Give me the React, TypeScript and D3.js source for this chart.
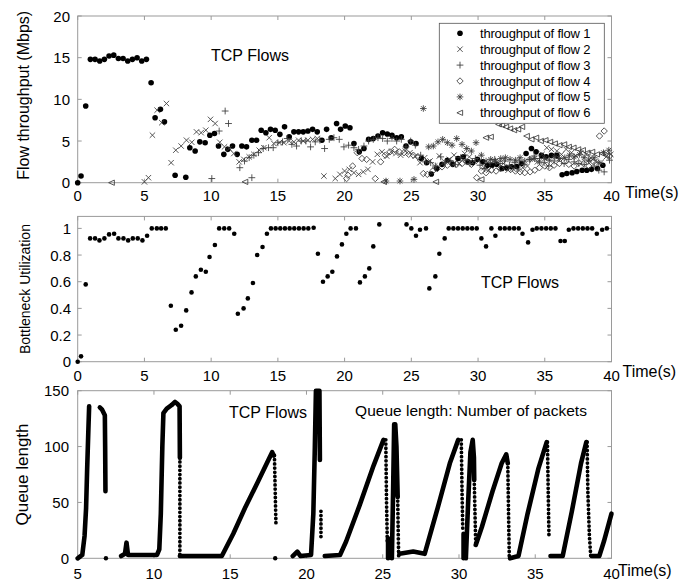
import React from "react";
import * as d3 from "d3";

// ---------- DATA ----------
const X_TICKS_TOP = [0, 5, 10, 15, 20, 25, 30, 35, 40];
const Y_TICKS_TOP = [0, 5, 10, 15, 20];
const Y_TICKS_MID = [0, 0.2, 0.4, 0.6, 0.8, 1];
const Y_TICK_LABELS_MID = ["0", "0.2", "0.4", "0.6", "0.8", "1"];
const X_TICKS_BOT = [5, 10, 15, 20, 25, 30, 35, 40];
const Y_TICKS_BOT = [0, 50, 100, 150];

const LEGEND_LABELS = [
  "throughput of flow 1",
  "throughput of flow 2",
  "throughput of flow 3",
  "throughput of flow 4",
  "throughput of flow 5",
  "throughput of flow 6",
];
const MARKERS = ["dot", "x", "plus", "diamond", "star", "tri"];

const FLOW1: [number, number][] = [
  [0, 0], [0.25, 0.8], [0.6, 9.2], [0.95, 14.8], [1.3, 14.8], [1.65, 14.6], [2.0, 14.8], [2.35, 15.2],
  [2.7, 15.3], [3.05, 14.9], [3.4, 14.9], [3.75, 14.6], [4.1, 14.8], [4.45, 15.0], [4.8, 14.6], [5.15, 14.8],
  [5.5, 12.0], [5.8, 7.8], [6.2, 8.8], [6.5, 7.3], [7.3, 0.9], [8.1, 0.65], [8.4, 4.2], [8.8, 3.8],
  [9.15, 4.9], [9.55, 4.8], [9.9, 5.7], [10.25, 5.9], [10.55, 4.4], [10.95, 3.4], [11.25, 4.0], [11.6, 4.4],
  [11.95, 3.4], [12.3, 4.4], [12.65, 4.3], [13.05, 5.1], [13.4, 5.1], [13.75, 6.3], [14.1, 6.0], [14.45, 6.4],
  [14.8, 6.3], [15.15, 5.8], [15.5, 6.7], [15.85, 5.5], [16.2, 6.1], [16.55, 6.1], [16.9, 6.1], [17.25, 6.2],
  [17.6, 6.4], [17.95, 6.1], [18.3, 5.1], [18.65, 6.4], [19.0, 5.4], [19.4, 7.1], [19.7, 6.4], [20.05, 6.8],
  [20.4, 6.6], [20.7, 4.7], [21.1, 3.7], [21.45, 4.1], [21.8, 5.2], [22.15, 5.3], [22.5, 5.6], [22.85, 6.0],
  [23.2, 5.85], [23.55, 5.7], [23.9, 5.4], [24.25, 5.5], [24.6, 4.4], [24.95, 4.9], [25.35, 4.7], [25.75, 2.9],
  [26.15, 2.4], [26.5, 1.05], [26.9, 1.7], [27.3, 2.2], [27.7, 2.7], [28.1, 2.2], [28.5, 2.9], [28.9, 3.1],
  [29.25, 2.5], [29.6, 2.4], [29.95, 2.8], [30.35, 2.5], [30.7, 2.1], [31.05, 2.1], [31.4, 2.2], [31.8, 1.7],
  [32.15, 1.8], [32.5, 1.9], [32.9, 1.95], [33.25, 2.3], [33.6, 3.5], [34.0, 4.1], [34.35, 3.7], [34.75, 3.3],
  [35.1, 3.1], [35.5, 3.3], [35.9, 3.3], [36.3, 0.95], [36.65, 1.1], [37.05, 1.2], [37.4, 1.35], [37.8, 1.5],
  [38.15, 1.5], [38.5, 1.6], [38.95, 1.7], [39.35, 2.1],
];

const FLOW2: [number, number][] = [
  [5.0, 0.1], [5.3, 0.6], [5.6, 5.7], [5.95, 8.7], [6.3, 7.2], [6.65, 9.5], [7.0, 2.4], [7.35, 3.9],
  [7.75, 4.4], [8.15, 5.1], [8.55, 4.85], [8.9, 6.1], [9.25, 6.0], [9.6, 6.3], [9.95, 7.6], [10.3, 7.1],
  [10.65, 4.85], [11.0, 4.3], [11.35, 4.1], [11.7, 3.5], [12.1, 2.5], [12.45, 2.8], [12.85, 3.1], [13.2, 3.4],
  [13.6, 3.9], [13.95, 4.2], [14.35, 5.4], [14.7, 4.7], [15.1, 4.8], [15.45, 4.8], [15.85, 5.0], [16.2, 4.9],
  [16.55, 5.1], [16.9, 5.0], [17.25, 5.1], [17.6, 5.2], [17.95, 5.3], [18.45, 0.8], [19.3, 0.5], [19.65, 1.0],
  [20.0, 1.4], [20.35, 1.6], [20.7, 1.2], [21.05, 1.0], [21.4, 1.3], [21.75, 1.6], [22.1, 2.5], [22.45, 3.4],
  [22.8, 3.7], [23.15, 3.2], [23.5, 3.7], [23.85, 3.5], [24.2, 3.3], [24.55, 3.8], [24.9, 3.6], [25.3, 3.2],
  [25.65, 2.4], [26.0, 3.0], [26.4, 2.6], [26.75, 2.0], [27.1, 3.2], [27.5, 2.5], [27.85, 2.8], [28.2, 3.3],
  [28.6, 2.3], [29.0, 3.5], [29.35, 3.1], [29.7, 2.6], [30.05, 2.6], [30.45, 1.8], [30.8, 1.5], [31.15, 2.6],
  [31.5, 2.4], [31.9, 2.3], [32.25, 1.5], [32.6, 1.7], [33.0, 1.6], [33.35, 1.8], [33.7, 2.0], [34.1, 2.8],
  [34.45, 2.5], [34.8, 3.4], [35.15, 4.2], [35.5, 4.0], [35.9, 3.8], [36.25, 3.4], [36.6, 4.0], [37.0, 3.6],
  [37.35, 3.2], [37.7, 3.6], [38.1, 3.4], [38.45, 3.0], [38.8, 2.6], [39.2, 2.4], [39.6, 3.1], [39.95, 3.4],
];

const FLOW3: [number, number][] = [
  [10.05, 0.5], [10.6, 6.2], [11.05, 8.6], [11.3, 7.1], [12.15, 1.8], [12.5, 2.6], [12.85, 3.0], [13.05, 0.6],
  [13.2, 3.3], [13.55, 3.6], [13.9, 4.1], [14.3, 4.2], [14.65, 4.2], [15.0, 4.8], [15.35, 4.9], [15.7, 5.3],
  [16.05, 4.6], [16.4, 4.4], [16.75, 5.0], [17.1, 5.0], [17.45, 4.3], [17.8, 4.9], [18.15, 5.1], [18.5, 4.1],
  [18.85, 5.2], [19.2, 5.4], [19.6, 5.2], [19.95, 4.3], [20.3, 4.5], [20.7, 4.2], [21.05, 4.0], [21.45, 4.4],
  [21.8, 5.0], [22.15, 5.2], [22.5, 5.4], [22.85, 5.3], [23.2, 5.0], [23.55, 5.3], [23.9, 5.0], [24.25, 5.2],
  [24.6, 4.3], [24.95, 5.0], [25.3, 4.5], [25.7, 3.3], [26.05, 2.5], [26.45, 2.4], [26.8, 2.0], [27.2, 3.1],
  [27.55, 2.4], [27.95, 2.6], [28.3, 2.2], [28.7, 3.0], [29.05, 2.7], [29.4, 2.3], [29.8, 2.9], [30.15, 2.1],
  [30.5, 1.7], [30.9, 2.4], [31.25, 2.8], [31.65, 2.3], [32.0, 2.6], [32.35, 2.1], [32.75, 2.4], [33.1, 2.6],
  [33.45, 2.2], [33.85, 2.8], [34.2, 3.2], [34.6, 2.9], [34.95, 2.4], [35.3, 2.0], [35.7, 2.6], [36.05, 2.9],
  [36.45, 2.3], [36.8, 2.8], [37.2, 2.5], [37.55, 2.3], [37.95, 2.2], [38.3, 2.6], [38.7, 2.0], [39.05, 1.5],
  [39.45, 1.3], [39.85, 2.7],
];

const FLOW4: [number, number][] = [
  [20.15, 0.5], [20.25, 0.9], [20.6, 2.0], [20.95, 3.6], [21.3, 2.9], [21.65, 2.8], [22.3, 0.5], [22.7, 2.5],
  [23.05, 3.3], [23.4, 3.7], [23.75, 4.0], [24.1, 3.7], [24.45, 3.6], [24.8, 3.4], [25.15, 3.3], [25.5, 3.1],
  [25.9, 1.1], [26.2, 1.0], [26.6, 1.4], [26.95, 1.7], [27.3, 1.9], [27.7, 2.1], [28.05, 2.3], [28.4, 2.2],
  [28.8, 2.3], [29.15, 2.5], [29.5, 2.2], [29.9, 0.6], [30.25, 1.4], [30.6, 1.2], [31.0, 1.5], [31.35, 1.4],
  [31.7, 1.7], [32.1, 1.8], [32.45, 1.6], [32.8, 1.4], [33.15, 1.3], [33.5, 1.2], [33.9, 1.3], [34.25, 1.5],
  [34.6, 1.8], [35.0, 2.0], [35.35, 1.8], [35.7, 2.1], [36.1, 2.3], [36.45, 2.6], [36.8, 2.2], [37.2, 2.0],
  [37.55, 2.4], [37.9, 2.3], [38.3, 2.0], [38.65, 2.5], [39.1, 5.6], [39.45, 6.2], [39.85, 3.2],
];

const FLOW5: [number, number][] = [
  [23.1, 0.2], [24.15, 0.2], [25.2, 0.4], [25.9, 8.9], [26.3, 4.3], [26.65, 4.4], [27.0, 4.9], [27.35, 5.2],
  [27.7, 4.8], [28.05, 4.5], [28.4, 5.3], [28.8, 4.6], [29.15, 4.1], [29.5, 3.8], [29.85, 4.8], [30.25, 3.3],
  [30.6, 2.6], [30.95, 2.8], [31.3, 2.6], [31.7, 2.9], [32.05, 3.0], [32.4, 2.8], [32.8, 2.7], [33.15, 3.0],
  [33.5, 2.6], [33.9, 2.8], [34.25, 2.9], [34.6, 2.5], [35.0, 2.9], [35.35, 2.7], [35.75, 3.1], [36.1, 2.9],
  [36.5, 3.0], [36.85, 3.3], [37.2, 3.1], [37.6, 3.4], [37.95, 3.0], [38.3, 2.7], [38.7, 3.0], [39.05, 2.4],
  [39.4, 3.6], [39.8, 3.9],
];

const FLOW6: [number, number][] = [
  [2.55, 0.0], [12.55, 0.1], [22.95, 0.1], [26.85, 0.1], [30.25, 0.4], [30.6, 5.4], [30.95, 5.5], [31.55, 7.0],
  [31.8, 6.9], [32.1, 6.7], [32.4, 6.5], [32.7, 6.3], [33.0, 6.4], [33.3, 6.7], [33.65, 5.6], [34.0, 5.2],
  [34.35, 5.4], [34.7, 5.0], [35.05, 5.1], [35.4, 4.9], [35.75, 4.7], [36.1, 4.5], [36.45, 4.6], [36.8, 4.3],
  [37.15, 4.2], [37.5, 4.0], [37.85, 3.9], [38.2, 3.6], [38.55, 3.7], [38.9, 3.4], [39.3, 3.5], [39.65, 3.3],
];

const UTILIZATION: [number, number][] = [
  [0, 0], [0.25, 0.04], [0.6, 0.58], [0.93, 0.925], [1.3, 0.925], [1.63, 0.91], [2.0, 0.925], [2.35, 0.955],
  [2.73, 0.96], [3.05, 0.925], [3.43, 0.925], [3.78, 0.91], [4.13, 0.925], [4.5, 0.925], [4.85, 0.91],
  [5.2, 0.945], [5.55, 1.0], [5.93, 1.0], [6.25, 1.0], [6.6, 1.0], [6.98, 0.42], [7.35, 0.24], [7.75, 0.27],
  [8.13, 0.385], [8.53, 0.52], [8.85, 0.64], [9.23, 0.69], [9.6, 0.675], [9.88, 0.785], [10.28, 0.875],
  [10.6, 1.0], [10.98, 1.0], [11.35, 1.0], [11.73, 0.96], [12.0, 0.36], [12.43, 0.4], [12.75, 0.475],
  [13.13, 0.59], [13.45, 0.8], [13.85, 0.86], [14.18, 0.96], [14.48, 1.0], [14.83, 1.0], [15.18, 1.0],
  [15.53, 1.0], [15.88, 1.0], [16.23, 1.0], [16.58, 1.0], [16.93, 1.0], [17.28, 1.0], [17.68, 1.005],
  [18.0, 0.81], [18.38, 0.6], [18.73, 0.64], [19.08, 0.675], [19.43, 0.79], [19.8, 0.88], [20.13, 0.96],
  [20.45, 1.0], [20.85, 1.0], [21.15, 0.595], [21.52, 0.64], [21.85, 0.7], [22.15, 0.865], [22.6, 1.03],
  [24.64, 1.03], [25.0, 1.0], [25.35, 0.945], [25.65, 0.99], [26.1, 1.0], [26.35, 0.55], [26.8, 0.64],
  [27.1, 0.81], [27.5, 0.925], [27.8, 1.0], [28.15, 1.0], [28.5, 1.0], [28.85, 1.0], [29.2, 1.0], [29.55, 1.0],
  [29.9, 1.0], [30.25, 0.925], [30.6, 0.865], [31.0, 1.0], [31.3, 0.945], [31.65, 1.0], [32.0, 1.0],
  [32.35, 1.0], [32.7, 1.0], [33.05, 1.0], [33.33, 0.96], [33.75, 0.895], [34.08, 0.99], [34.4, 1.0],
  [34.75, 1.0], [35.1, 1.0], [35.45, 1.0], [35.8, 1.0], [36.18, 0.905], [36.5, 0.905], [36.8, 0.99],
  [37.15, 1.0], [37.5, 1.0], [37.85, 1.0], [38.2, 1.0], [38.55, 1.0], [38.9, 0.96], [39.3, 0.99], [39.65, 1.0],
];

// queue length trace: dense (solid) stretches and sparse (dotted) drops
const QUEUE_SOLID: [number, number][][] = [
  [[5.0, 0], [5.3, 3], [5.45, 20], [5.55, 45], [5.62, 80], [5.7, 115], [5.75, 136]],
  [[6.45, 135], [6.6, 133], [6.78, 128], [6.8, 100], [6.82, 60]],
  [[7.85, 2], [8.1, 4], [8.2, 14], [8.3, 3], [10.2, 3], [10.35, 8], [10.45, 40], [10.55, 100], [10.62, 130],
   [10.84, 134], [11.15, 137], [11.38, 140], [11.55, 138], [11.68, 136], [11.7, 90]],
  [[11.7, 2], [14.45, 2], [15.2, 22], [16.0, 46], [16.8, 68], [17.4, 85], [17.75, 95], [17.85, 92]],
  [[19.1, 2], [19.4, 6], [19.6, 2], [20.3, 3], [20.45, 40], [20.55, 100], [20.62, 150], [20.85, 150], [20.88, 88]],
  [[21.2, 2], [22.2, 3], [22.6, 15], [23.5, 48], [24.4, 83], [25.05, 106]],
  [[25.35, 0], [25.35, 18]],
  [[25.6, 0], [25.68, 60], [25.75, 120], [25.82, 120], [25.9, 100], [25.98, 55]],
  [[26.1, 4], [27.0, 6], [27.75, 4], [28.6, 45], [29.4, 85], [29.95, 106]],
  [[30.3, 0], [30.3, 22]],
  [[30.45, 0], [30.6, 50], [30.75, 95], [30.9, 106], [30.98, 90], [31.0, 70]],
  [[31.1, 12], [31.5, 28], [32.2, 60], [32.8, 85], [33.1, 93], [33.2, 85]],
  [[33.35, 0], [33.9, 2], [34.5, 40], [35.2, 80], [35.75, 104]],
  [[36.0, 2], [36.8, 2], [37.4, 42], [38.0, 85], [38.35, 104]],
  [[38.7, 2], [39.2, 2], [39.5, 15], [40.0, 40]],
];
const QUEUE_DOTTED: [number, number][][] = [
  [[11.7, 90], [11.7, 0]],
  [[17.9, 92], [17.95, 60], [18.0, 30]],
  [[20.95, 42], [20.95, 18]],
  [[25.2, 106], [25.25, 50], [25.3, 15]],
  [[25.98, 55], [26.02, 20], [26.05, 0]],
  [[30.15, 106], [30.2, 60], [30.25, 25]],
  [[31.0, 70], [31.05, 40], [31.1, 12]],
  [[33.2, 85], [33.25, 40], [33.3, 0]],
  [[35.8, 104], [35.85, 60], [35.9, 20]],
  [[38.4, 104], [38.45, 60], [38.55, 20], [38.65, 0]],
];
const QUEUE_ISOLATED: [number, number][] = [[6.85, 0], [17.95, 0]];

// ---------- LAYOUT ----------
const FONT = "'Liberation Sans', Arial, Helvetica, sans-serif";
const L = 77.7, R = 611.5;
const xTop = d3.scaleLinear().domain([0, 40]).range([L, R]);
const yTop = d3.scaleLinear().domain([0, 20]).range([182.7, 16]);
const yMid = d3.scaleLinear().domain([0, 1.09]).range([361.7, 216.4]);
const xBot = d3.scaleLinear().domain([5, 40]).range([L, R]);
const yBot = d3.scaleLinear().domain([0, 150]).range([558.3, 390.7]);

const FRAME = "#9a9a9a";
const MK = "#3a3a3a";

function markerPath(type: string, r: number): string {
  switch (type) {
    case "x":
      return `M${-r},${-r}L${r},${r}M${-r},${r}L${r},${-r}`;
    case "plus":
      return `M${-r},0L${r},0M0,${-r}L0,${r}`;
    case "diamond":
      return `M0,${-r}L${r},0L0,${r}L${-r},0Z`;
    case "star": {
      const d = r * 0.72;
      return `M${-r},0L${r},0M0,${-r}L0,${r}M${-d},${-d}L${d},${d}M${-d},${d}L${d},${-d}`;
    }
    case "tri":
      return `M${-r},0L${r * 0.85},${-r * 0.85}L${r * 0.85},${r * 0.85}Z`;
    default:
      return "";
  }
}
const MARKER_R: Record<string, number> = { x: 2.7, plus: 3.4, diamond: 3.2, star: 3.3, tri: 3.1 };

function Marker({ type, x, y }: { type: string; x: number; y: number }) {
  if (type === "dot") return <circle cx={x} cy={y} r={2.8} fill="#000" />;
  return (
    <path
      d={markerPath(type, MARKER_R[type])}
      transform={`translate(${x},${y})`}
      fill="none"
      stroke={MK}
      strokeWidth={0.85}
    />
  );
}

function Frame({
  x0, x1, y0, y1, xt, yt,
}: { x0: number; x1: number; y0: number; y1: number; xt: number[]; yt: number[] }) {
  const tl = 4;
  return (
    <g stroke={FRAME} strokeWidth={1} fill="none">
      <rect x={x0} y={y0} width={x1 - x0} height={y1 - y0} />
      {xt.map((x, i) => (
        <g key={"x" + i}>
          <line x1={x} x2={x} y1={y1} y2={y1 - tl} />
          <line x1={x} x2={x} y1={y0} y2={y0 + tl} />
        </g>
      ))}
      {yt.map((y, i) => (
        <g key={"y" + i}>
          <line x1={x0} x2={x0 + tl} y1={y} y2={y} />
          <line x1={x1} x2={x1 - tl} y1={y} y2={y} />
        </g>
      ))}
    </g>
  );
}

const FLOWS = [FLOW1, FLOW2, FLOW3, FLOW4, FLOW5, FLOW6];

export default function App() {
  const line = d3
    .line<[number, number]>()
    .x((d) => xBot(d[0]))
    .y((d) => yBot(d[1]));

  const tickFont = 15;

  return (
    <svg
      width={692}
      height={582}
      viewBox="0 0 692 582"
      style={{ position: "absolute", left: 0, top: 0, background: "#fff" }}
      fontFamily={FONT}
    >
      <rect x={0} y={0} width={692} height={582} fill="#fff" />

      {/* ---------- TOP PANEL ---------- */}
      <Frame
        x0={L} x1={R} y0={yTop(20)} y1={yTop(0)}
        xt={X_TICKS_TOP.map((t) => xTop(t))}
        yt={Y_TICKS_TOP.map((t) => yTop(t))}
      />
      {Y_TICKS_TOP.map((t) => (
        <text key={"yt" + t} x={70} y={yTop(t) + 5.5} fontSize={tickFont} textAnchor="end" fill="#000">
          {t}
        </text>
      ))}
      {X_TICKS_TOP.map((t) => (
        <text key={"xt" + t} x={xTop(t)} y={200.5} fontSize={tickFont} textAnchor="middle" fill="#000">
          {t}
        </text>
      ))}
      <text x={625} y={198} fontSize={16} fill="#000">Time(s)</text>
      <text
        transform={`translate(29,${(yTop(0) + yTop(20)) / 2 - 4}) rotate(-90)`}
        fontSize={16}
        textAnchor="middle"
        fill="#000"
      >
        Flow throughput (Mbps)
      </text>
      <text x={250} y={61} fontSize={16} textAnchor="middle" fill="#000">TCP Flows</text>

      {FLOWS.map((s, si) =>
        s.map((d, i) => (
          <Marker key={si + "-" + i} type={MARKERS[si]} x={xTop(d[0])} y={yTop(d[1])} />
        ))
      )}

      {/* legend */}
      <rect x={439.3} y={23.3} width={165} height={100} fill="#fff" stroke="#555" strokeWidth={0.8} />
      {LEGEND_LABELS.map((lab, i) => {
        const y = 33.3 + i * 15.9;
        return (
          <g key={lab}>
            <Marker type={MARKERS[i]} x={460} y={y} />
            <text x={480} y={y + 4.5} fontSize={13} fill="#000" letterSpacing={-0.2}>
              {lab}
            </text>
          </g>
        );
      })}

      {/* ---------- MIDDLE PANEL ---------- */}
      <Frame
        x0={L} x1={R} y0={yMid(1.09)} y1={yMid(0)}
        xt={X_TICKS_TOP.map((t) => xTop(t))}
        yt={Y_TICKS_MID.map((t) => yMid(t))}
      />
      {Y_TICKS_MID.map((t, i) => (
        <text key={"ym" + t} x={71} y={yMid(t) + 5.5} fontSize={tickFont} textAnchor="end" fill="#000">
          {Y_TICK_LABELS_MID[i]}
        </text>
      ))}
      {X_TICKS_TOP.map((t) => (
        <text key={"xm" + t} x={xTop(t)} y={380.5} fontSize={tickFont} textAnchor="middle" fill="#000">
          {t}
        </text>
      ))}
      <text x={622.5} y={377} fontSize={16} fill="#000">Time(s)</text>
      <text
        transform={`translate(30,${(yMid(0) + yMid(1.09)) / 2}) rotate(-90)`}
        fontSize={14}
        textAnchor="middle"
        fill="#000"
      >
        Bottleneck Utilization
      </text>
      <text x={520} y={288} fontSize={16} textAnchor="middle" fill="#000">TCP Flows</text>
      {UTILIZATION.map((d, i) => (
        <circle key={"u" + i} cx={xTop(d[0])} cy={yMid(d[1])} r={2.3} fill="#000" />
      ))}

      {/* ---------- BOTTOM PANEL ---------- */}
      <Frame
        x0={L} x1={R} y0={yBot(150)} y1={yBot(0)}
        xt={X_TICKS_BOT.map((t) => xBot(t))}
        yt={Y_TICKS_BOT.map((t) => yBot(t))}
      />
      {Y_TICKS_BOT.map((t) => (
        <text key={"yb" + t} x={69} y={yBot(t) + 5.5} fontSize={tickFont} textAnchor="end" fill="#000">
          {t}
        </text>
      ))}
      {X_TICKS_BOT.map((t) => (
        <text key={"xb" + t} x={xBot(t)} y={578.5} fontSize={tickFont} textAnchor="middle" fill="#000">
          {t}
        </text>
      ))}
      <text x={618} y={575.5} fontSize={16} fill="#000">Time(s)</text>
      <text
        transform={`translate(28,${(yBot(0) + yBot(150)) / 2}) rotate(-90)`}
        fontSize={17}
        textAnchor="middle"
        fill="#000"
      >
        Queue length
      </text>
      <text x={268} y={418} fontSize={16} textAnchor="middle" fill="#000">TCP Flows</text>
      <text x={471} y={416} fontSize={15.5} textAnchor="middle" fill="#000">
        Queue length: Number of packets
      </text>

      <g clipPath="url(#botclip)">
        {QUEUE_SOLID.map((seg, i) => (
          <path
            key={"qs" + i}
            d={line(seg) || ""}
            fill="none"
            stroke="#000"
            strokeWidth={4.6}
            strokeLinejoin="round"
            strokeLinecap="round"
          />
        ))}
        {QUEUE_DOTTED.map((seg, i) => (
          <path
            key={"qd" + i}
            d={line(seg) || ""}
            fill="none"
            stroke="#000"
            strokeWidth={3.8}
            strokeLinecap="round"
            strokeDasharray="0 4.2"
          />
        ))}
      </g>
      {QUEUE_ISOLATED.map((d, i) => (
        <circle key={"qi" + i} cx={xBot(d[0])} cy={yBot(d[1])} r={2.2} fill="#000" />
      ))}
      <defs>
        <clipPath id="botclip">
          <rect x={L - 3} y={yBot(150) - 3} width={R - L + 6} height={yBot(0) - yBot(150) + 6} />
        </clipPath>
      </defs>
    </svg>
  );
}
